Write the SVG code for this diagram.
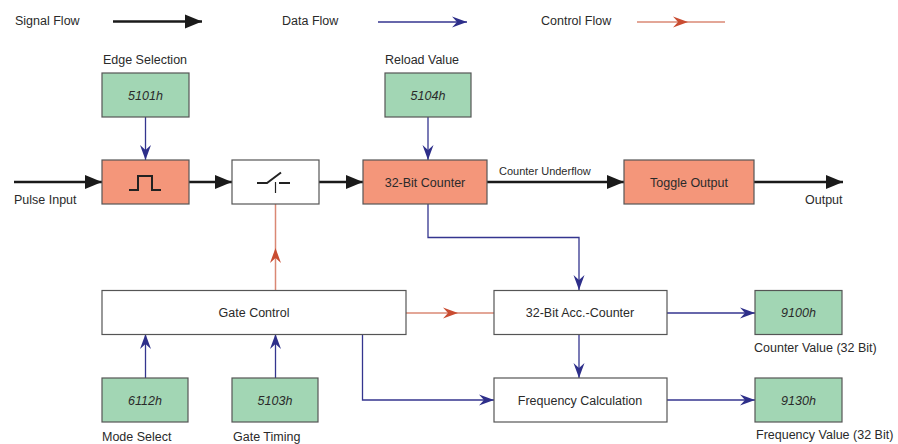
<svg xmlns="http://www.w3.org/2000/svg" width="898" height="444" viewBox="0 0 898 444">
<defs>
<style>
text{font-family:"Liberation Sans",Arial,sans-serif;font-size:12.5px;fill:#2a2a2a}
.c{text-anchor:middle}
.i{font-style:italic}
.s{font-size:11px}
.box{stroke:#555;stroke-width:1.2}
.or{fill:#F4967A}
.gr{fill:#A2D6B4}
.wh{fill:#fff}
.sig{fill:none;stroke:#1a1a1a;stroke-width:2.5;marker-end:url(#mb)}
.dat{fill:none;stroke:#34358f;stroke-width:1.3;marker-end:url(#md)}
.ctl{fill:none;stroke:#DA8874;stroke-width:1.5;marker-mid:url(#mc)}
.sym{fill:none;stroke:#222;stroke-width:2}
</style>
<marker id="mb" markerUnits="userSpaceOnUse" viewBox="-17 -7 18 14" refX="0" refY="0" markerWidth="18" markerHeight="14" orient="auto" overflow="visible">
<path d="M0 0 L-17 -7 L-17 7 Z" fill="#1a1a1a"/>
</marker>
<marker id="md" markerUnits="userSpaceOnUse" viewBox="-15 -6 16 12" refX="0" refY="0" markerWidth="16" markerHeight="12" orient="auto" overflow="visible">
<path d="M0 0 L-15 -5.5 L-10 0 L-15 5.5 Z" fill="#2e2f8a"/>
</marker>
<marker id="mc" markerUnits="userSpaceOnUse" viewBox="-15 -6 16 12" refX="0" refY="0" markerWidth="16" markerHeight="12" orient="auto" overflow="visible">
<path d="M0 0 L-15 -5.5 L-10 0 L-15 5.5 Z" fill="#C94C31"/>
</marker>
</defs>
<rect width="898" height="444" fill="#fff"/>

<g id="legend">
<text x="15" y="25">Signal Flow</text>
<path class="sig" d="M113 21.5 L202 21.5"/>
<text x="282" y="25">Data Flow</text>
<path class="dat" d="M378 22 L467 22" stroke="#7f80b3"/>
<text x="541" y="25">Control Flow</text>
<path class="ctl" d="M637 22 L688 22 L725 22"/>
</g>

<g id="connectors">
<path class="sig" d="M14 182 L102 182"/>
<path class="sig" d="M189 182 L232 182"/>
<path class="sig" d="M319 182 L363 182"/>
<path class="sig" d="M487 182 L624 182"/>
<path class="sig" d="M754 182 L843 182"/>
<path class="dat" d="M145.5 117 L145.5 160"/>
<path class="dat" d="M428 117 L428 160"/>
<path class="dat" d="M428 204 L428 237.5 L579 237.5 L579 290"/>
<path class="dat" d="M579 334 L579 378"/>
<path class="dat" d="M667 313 L755 313"/>
<path class="dat" d="M667 400 L755 400"/>
<path class="dat" d="M145.5 378 L145.5 334"/>
<path class="dat" d="M275.5 378 L275.5 334"/>
<path class="dat" d="M362.5 334 L362.5 400 L494 400"/>
<path class="ctl" d="M275.5 290 L275.5 248 L275.5 204"/>
<path class="ctl" d="M406 313 L458 313 L494 313"/>
<text class="s" x="499" y="175">Counter Underflow</text>
</g>

<g id="n5101">
<text class="c" x="145" y="64">Edge Selection</text>
<rect class="box gr" x="102" y="73" width="87" height="44"/>
<text class="c i" x="145.5" y="99.5">5101h</text>
</g>
<g id="n5104">
<text class="c" x="422" y="64">Reload Value</text>
<rect class="box gr" x="385" y="73" width="86" height="44"/>
<text class="c i" x="428" y="99.5">5104h</text>
</g>
<g id="edge">
<rect class="box or" x="102" y="160" width="87" height="44"/>
<path class="sym" d="M129 190 L138 190 L138 176 L152 176 L152 190 L161 190"/>
</g>
<g id="switch">
<rect class="box wh" x="232" y="160" width="87" height="44"/>
<path class="sym" d="M257 183 L267 183 L281 172.5 M279 183 L290 183"/>
<path d="M275.5 182 L275.5 193" stroke="#222" stroke-width="1.2"/>
</g>
<g id="counter">
<rect class="box or" x="363" y="160" width="124" height="44"/>
<text class="c" x="425" y="186.5">32-Bit Counter</text>
</g>
<g id="toggle">
<rect class="box or" x="624" y="160" width="130" height="44"/>
<text class="c" x="689" y="186.5">Toggle Output</text>
</g>
<g id="pulse-input"><text x="14" y="204">Pulse Input</text></g>
<g id="output"><text x="805" y="204">Output</text></g>
<g id="gate">
<rect class="box wh" x="102" y="290.5" width="304" height="44"/>
<text class="c" x="254" y="317">Gate Control</text>
</g>
<g id="acc">
<rect class="box wh" x="494" y="290.5" width="173" height="44"/>
<text class="c" x="580" y="317">32-Bit Acc.-Counter</text>
</g>
<g id="freq">
<rect class="box wh" x="494" y="378" width="173" height="44"/>
<text class="c" x="580" y="404.5">Frequency Calculation</text>
</g>
<g id="n9100">
<rect class="box gr" x="755" y="290.5" width="87" height="44"/>
<text class="c i" x="798.5" y="317">9100h</text>
<text x="754" y="352">Counter Value (32 Bit)</text>
</g>
<g id="n9130">
<rect class="box gr" x="755" y="378" width="87" height="44"/>
<text class="c i" x="798.5" y="404.5">9130h</text>
<text x="756" y="439">Frequency Value (32 Bit)</text>
</g>
<g id="n6112">
<rect class="box gr" x="102" y="378" width="86" height="44"/>
<text class="c i" x="145" y="404.5">6112h</text>
<text x="102" y="441">Mode Select</text>
</g>
<g id="n5103">
<rect class="box gr" x="232" y="378" width="86" height="44"/>
<text class="c i" x="275" y="404.5">5103h</text>
<text x="233" y="441">Gate Timing</text>
</g>
</svg>
